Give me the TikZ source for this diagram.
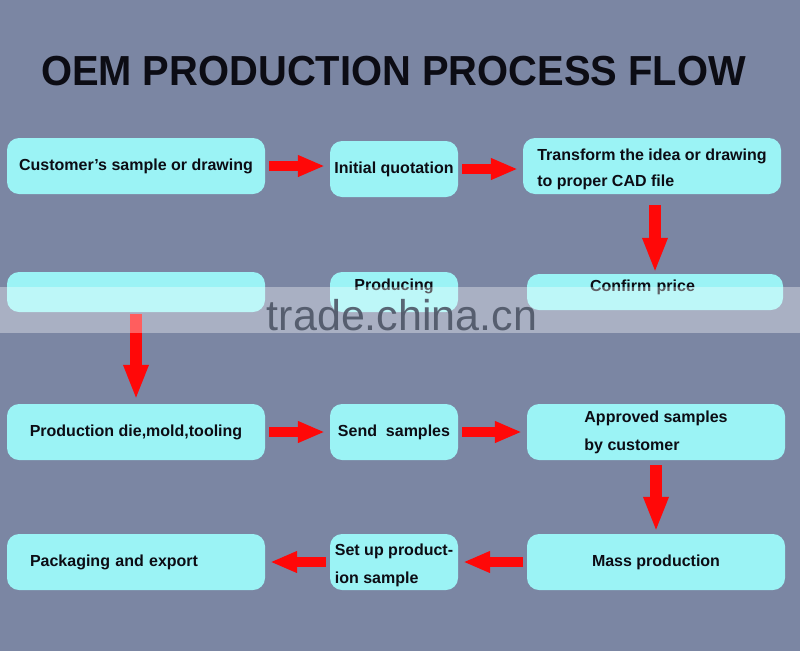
\documentclass[tikz,border=0pt]{standalone}
\usepackage{fontspec}
\setmainfont{Liberation Sans}
\usepackage{graphicx}
\usetikzlibrary{arrows.meta}

\definecolor{bgblue}{RGB}{123,134,163}
\definecolor{boxcyan}{RGB}{155,243,245}
\definecolor{flowred}{RGB}{255,8,8}
\definecolor{inkblack}{RGB}{12,12,20}
\definecolor{markgray}{RGB}{78,86,102}

\tikzset{
  stage/.style={rounded corners=12pt, fill=boxcyan, text=inkblack, inner sep=0pt,
    font=\bfseries\fontsize{16}{27}\selectfont, align=center, minimum height=56pt},
  wide/.style={minimum width=258pt},
  slim/.style={minimum width=128pt},
  harrow/.style={flowred, line width=10pt, -{Triangle[length=27pt,width=20pt]},
    shorten <=4pt, shorten >=5pt},
  varrow/.style={flowred, line width=12pt, -{Triangle[length=35pt,width=23pt]}}
}

\begin{document}
\begin{tikzpicture}[x=1pt, y=-1pt]
    % Background
    \fill[bgblue] (0,0) rectangle (800,651);
    \useasboundingbox (0,0) rectangle (800,651);

    % Title
    \node[anchor=base, text=inkblack, font=\bfseries\fontsize{42}{50}\selectfont] (title) at (393.5,85)
        {\scalebox{0.95}[1]{OEM PRODUCTION PROCESS FLOW}};

    % Row 1
    \node[stage, wide] (A) at (136,166) {Customer’s sample or drawing};
    \node[stage, slim] (B) at (394,169) {Initial quotation};
    \node[stage, wide, align=left, text height=43.5pt, font=\bfseries\fontsize{16}{26}\selectfont] (C) at (652,166)
        {Transform the idea or drawing\\to proper CAD file};

    % Row 2
    \node[stage, wide, minimum height=40pt] (D) at (136,292) {};
    \node[stage, slim, minimum height=40pt, text depth=14pt] (E) at (394,292) {Producing};
    \node[stage, minimum width=256pt, minimum height=36pt, text depth=12pt,
          text width=130pt, align=left] (F) at (655,292) {Confirm price};

    % Row 3
    \node[stage, wide] (G) at (136,432) {Production die,mold,tooling};
    \node[stage, slim] (H) at (394,432) {Send\ \ samples};
    \node[stage, wide, align=left, font=\bfseries\fontsize{16}{28}\selectfont] (I) at (656,432)
        {Approved samples\\by customer};

    % Row 4
    \node[stage, wide, text width=212pt, align=left] (J) at (136,562) {Packaging and export};
    \node[stage, slim, align=left, text height=45.5pt, font=\bfseries\fontsize{16}{28}\selectfont] (K) at (394,562)
        {Set up product-\\ion sample};
    \node[stage, wide] (L) at (656,562) {Mass production};

    % Arrows to the right
    \foreach \a/\b in {A/B, B/C, G/H, H/I}
        \draw[harrow] (\a.east) -- (\a.east -| \b.west);

    % Arrows to the left
    \foreach \a/\b in {L/K, K/J}
        \draw[harrow] (\a.west) -- (\a.west -| \b.east);

    % Arrows down
    \draw[varrow, shorten <=11pt, shorten >=1pt] (F.north |- C.south) -- (F.north);
    \draw[varrow, shorten <=2pt, shorten >=4pt] (D.south) -- (G.north);
    \draw[varrow, shorten <=5pt, shorten >=2pt] (I.south) -- (L.north);

    % Watermark band
    \fill[white, opacity=0.35] (0,287) rectangle (800,333);
    \node[anchor=base, text=markgray, opacity=0.9, font=\fontsize{43}{50}\selectfont] (mark) at (402,330)
        {trade.china.cn};
\end{tikzpicture}
\end{document}
